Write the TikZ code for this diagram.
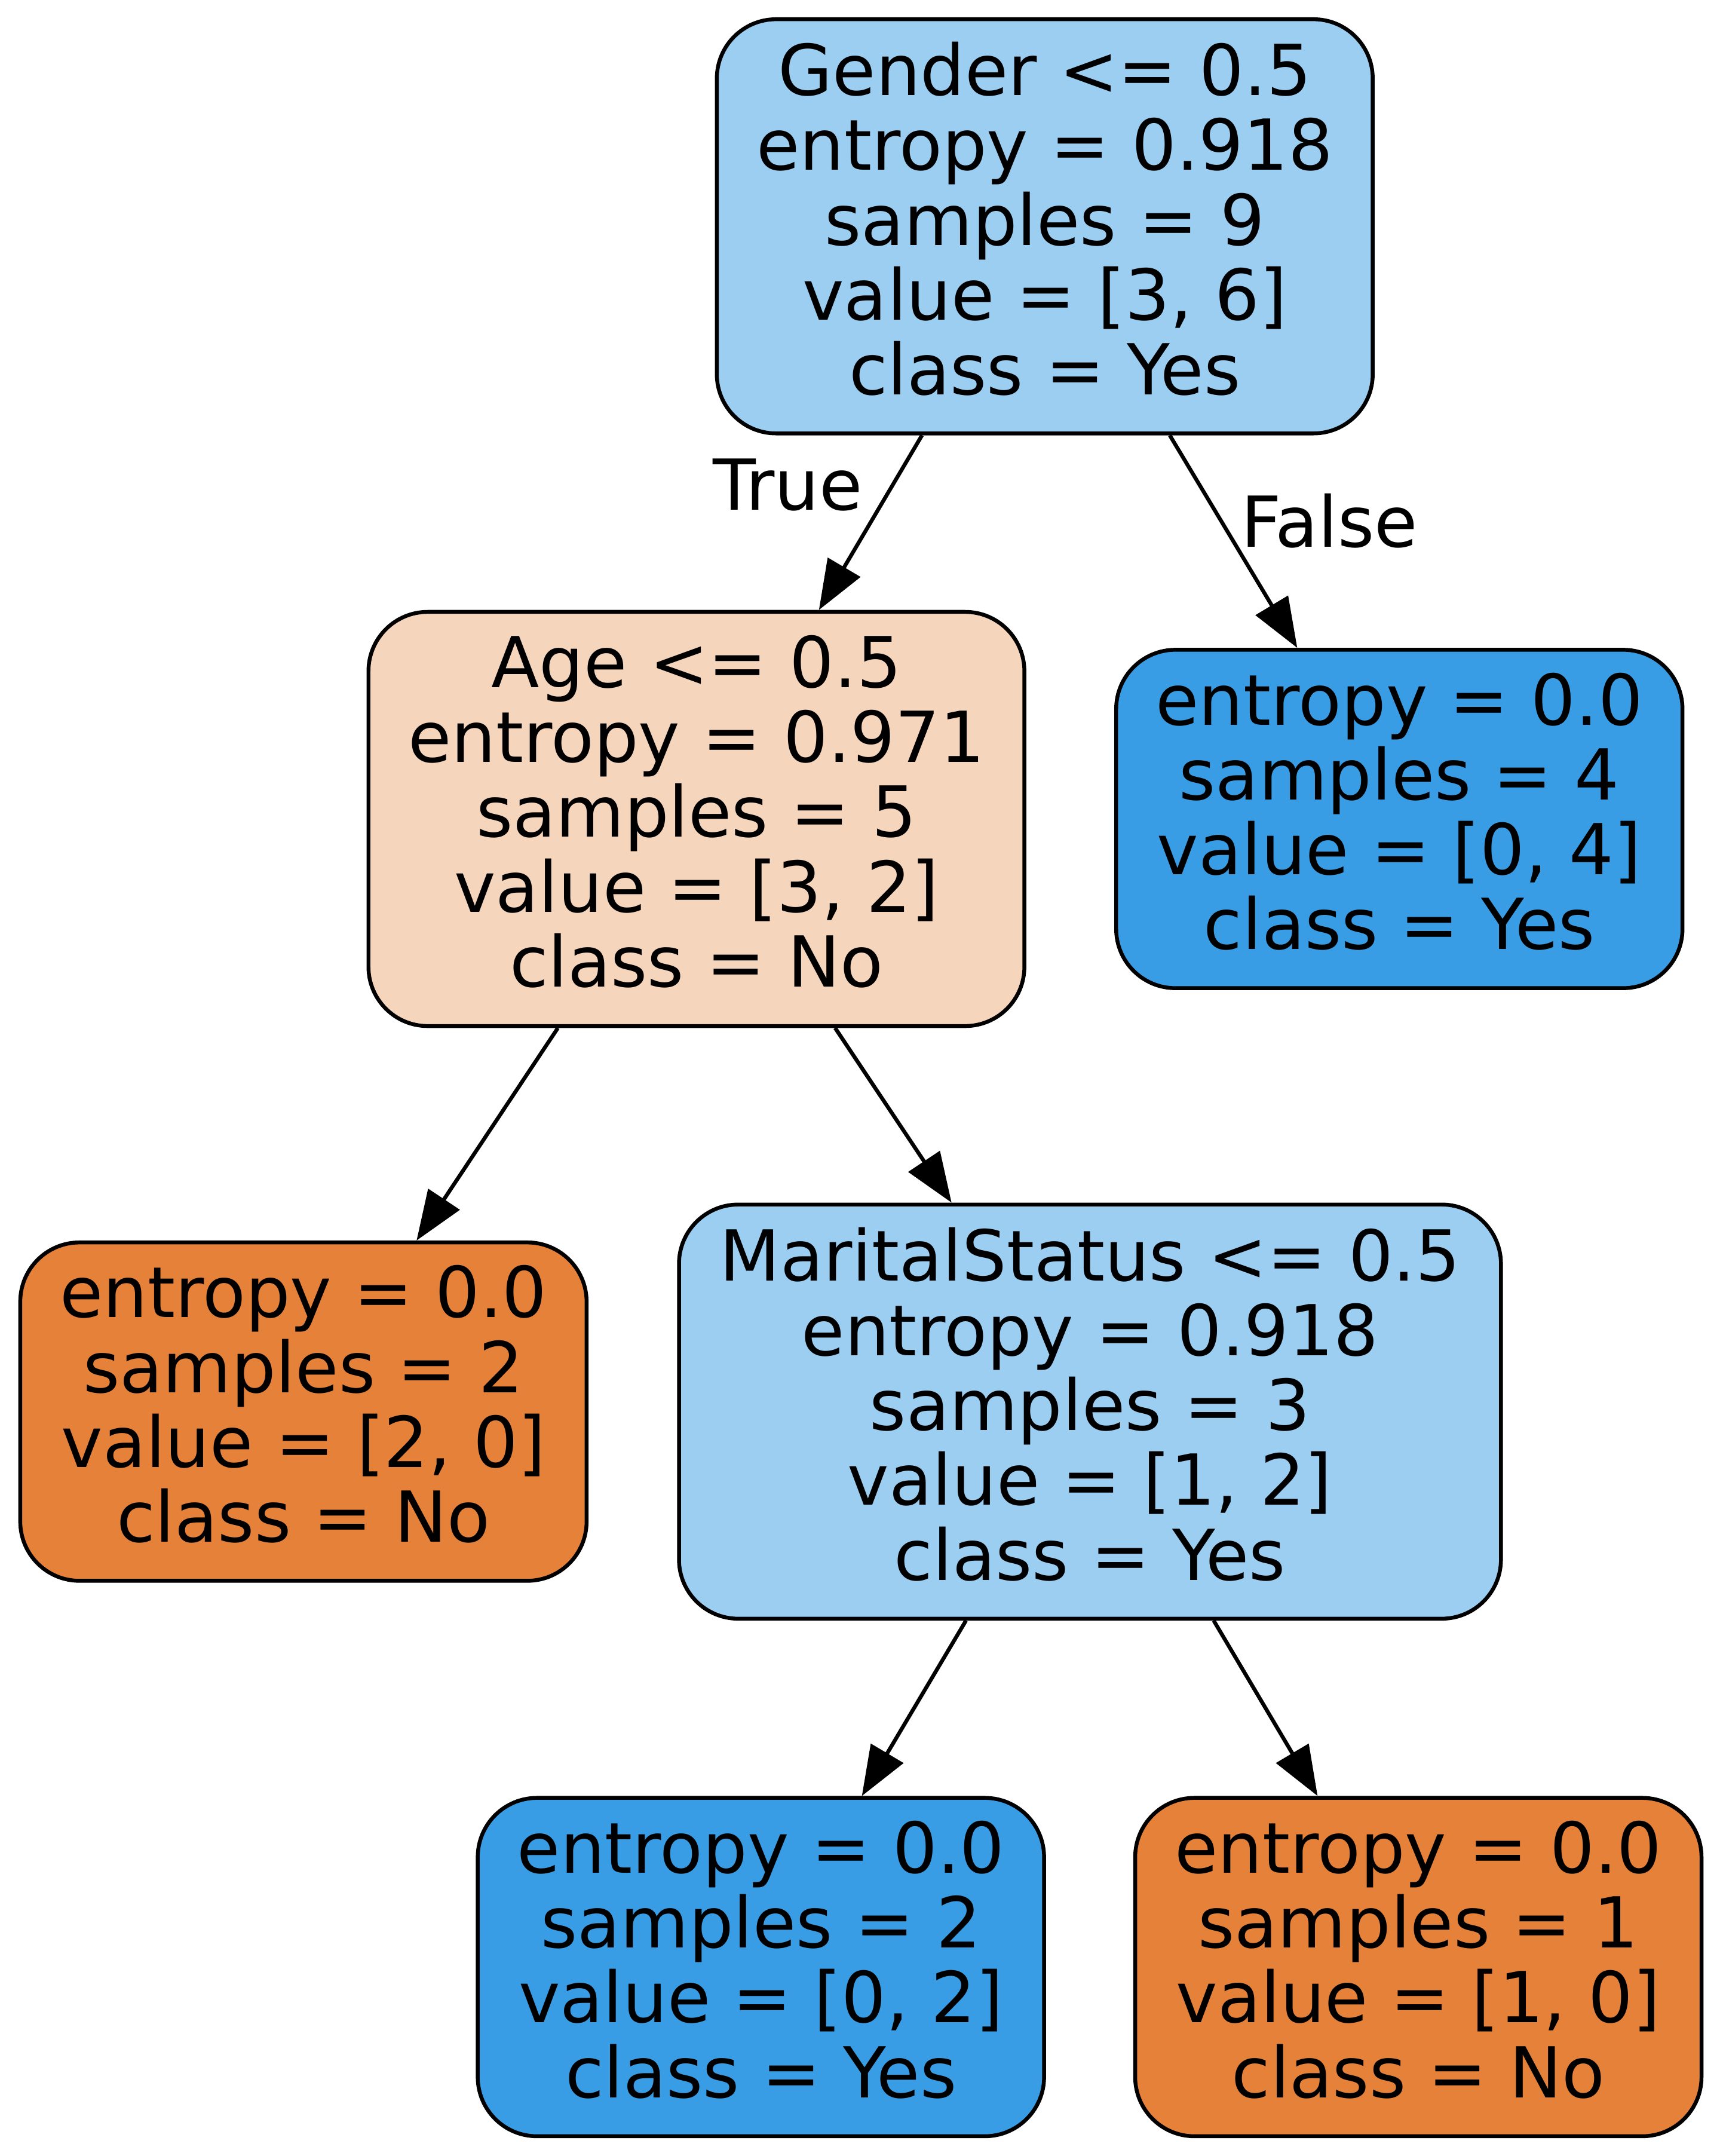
\documentclass[tikz,border=0pt]{standalone}
\usepackage{fontspec}
\setmainfont{DejaVu Sans}
\usetikzlibrary{arrows.meta}
\definecolor{yesfull}{HTML}{399DE5}
\definecolor{nofull}{HTML}{E58139}
\definecolor{yeshalf}{HTML}{9CCEF2}
\definecolor{nothird}{HTML}{F6D5BD}
\newcommand{\lastdepth}{\rule[-11.5pt]{0pt}{11.5pt}}
\begin{document}
\begin{tikzpicture}[x=1pt,y=-1pt,
  tnode/.style={draw=black, line width=2.8pt, rounded corners=43pt, inner sep=0pt,
    align=center, font=\fontsize{51}{54.3}\selectfont},
  split/.style={tnode, minimum width=476pt, minimum height=300.5pt},
  wsplit/.style={tnode, minimum width=596.5pt, minimum height=300.5pt},
  leafbox/.style={tnode, minimum width=411pt, minimum height=245.5pt},
  edge/.style={line width=2.8pt, -{Triangle[length=36pt,width=27pt]}},
  lbl/.style={inner sep=0pt, font=\fontsize{51}{54.3}\selectfont, anchor=base}]
\useasboundingbox (0,0) rectangle (1250,1564.3);
\node[split, fill=yeshalf] (root) at (758.2,164.2)
  {Gender <= 0.5\\entropy = 0.918\\samples = 9\\value = [3, 6]\\class = Yes\lastdepth};
\node[split, fill=nothird] (age) at (505.4,594.2)
  {Age <= 0.5\\entropy = 0.971\\samples = 5\\value = [3, 2]\\class = No\lastdepth};
\node[leafbox, fill=yesfull] (leafA) at (1015.5,594.2)
  {entropy = 0.0\\samples = 4\\value = [0, 4]\\class = Yes\lastdepth};
\node[leafbox, fill=nofull] (leafB) at (220.2,1024.2)
  {entropy = 0.0\\samples = 2\\value = [2, 0]\\class = No\lastdepth};
\node[wsplit, fill=yeshalf] (marital) at (791,1024.2)
  {MaritalStatus <= 0.5\\entropy = 0.918\\samples = 3\\value = [1, 2]\\class = Yes\lastdepth};
\node[leafbox, fill=yesfull] (leafC) at (552.2,1427.2)
  {entropy = 0.0\\samples = 2\\value = [0, 2]\\class = Yes\lastdepth};
\node[leafbox, fill=nofull] (leafD) at (1029.3,1427.2)
  {entropy = 0.0\\samples = 1\\value = [1, 0]\\class = No\lastdepth};
\draw[edge] (root) -- (age);
\draw[edge] (root) -- (leafA);
\draw[edge] (age) -- (leafB);
\draw[edge] (age) -- (marital);
\draw[edge] (marital) -- (leafC);
\draw[edge] (marital) -- (leafD);
\node[lbl] (ltrue) at (571.6,370) {True};
\node[lbl] (lfalse) at (964.8,396.9) {False};
\end{tikzpicture}
\end{document}
